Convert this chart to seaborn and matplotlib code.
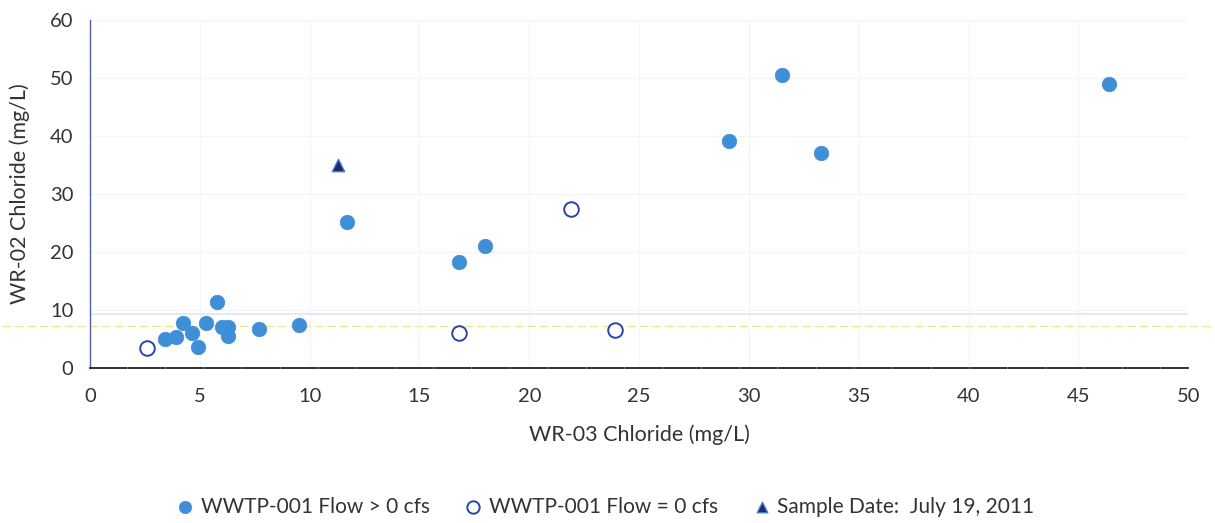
import matplotlib
matplotlib.use("Agg")
import matplotlib.pyplot as plt
import seaborn as sns
import pandas as pd

# Data (mg/L)
flow_x = [3.4, 3.9, 4.25, 4.65, 4.9, 5.3, 5.8, 6.0, 6.3, 6.3, 7.7, 9.5, 11.7, 16.8, 18.0, 29.1, 31.5, 33.3, 46.4]
flow_y = [5.0, 5.4, 7.8, 6.1, 3.7, 7.8, 11.4, 7.1, 7.1, 5.5, 6.7, 7.4, 25.1, 18.3, 21.0, 39.2, 50.5, 37.1, 49.0]
noflow_x = [2.6, 16.8, 21.9, 23.9]
noflow_y = [3.4, 6.0, 27.5, 6.5]
sample_x = [11.3]
sample_y = [35.0]

labels = ["WWTP-001 Flow > 0 cfs", "WWTP-001 Flow = 0 cfs", "Sample Date:  July 19, 2011"]
xticks = [0, 5, 10, 15, 20, 25, 30, 35, 40, 45, 50]
yticks = [0, 10, 20, 30, 40, 50, 60]

sns.set_theme(style="white")
plt.rcParams['font.family'] = ['Lato', 'DejaVu Sans']

fig = plt.figure(figsize=(12.15, 5.23), dpi=100)
ax = fig.add_axes([0.074, 0.296, 0.904, 0.666])

# faint grid
for v in yticks[1:]:
    ax.axhline(v, color="#f3f4f8", lw=0.8, zorder=0)
for v in xticks[1:]:
    ax.axvline(v, color="#f4f5f8", lw=0.8, zorder=0)
# scan artifacts (faint lines)
ax.axhline(7.2, xmin=-0.08, xmax=1.03, clip_on=False, color="#f0e68a", lw=1.0,
           ls=(0, (6, 3)), zorder=0.5)
ax.axhline(9.3, color="#dde6f4", lw=1.2, zorder=0.5)

df1 = pd.DataFrame({"x": flow_x, "y": flow_y})
df2 = pd.DataFrame({"x": noflow_x, "y": noflow_y})
df3 = pd.DataFrame({"x": sample_x, "y": sample_y})

sns.scatterplot(data=df1, x="x", y="y", ax=ax, s=110, color="#3f8fd8",
                edgecolor="#3f8fd8", linewidth=0.5, marker="o", label=labels[0], zorder=3)
sns.scatterplot(data=df2, x="x", y="y", ax=ax, s=110, facecolor="white",
                edgecolor="#2a44a8", linewidth=1.4, marker="o", label=labels[1], zorder=3)
sns.scatterplot(data=df3, x="x", y="y", ax=ax, s=80, color="#1f2a6e",
                edgecolor="#4a7fd0", linewidth=1.0, marker="^", label=labels[2], zorder=4)

ax.set_xlim(0, 50)
ax.set_ylim(0, 60)
ax.set_xticks(xticks)
ax.set_yticks(yticks)
ax.tick_params(axis="x", labelsize=14.5, colors="#333333", length=0, pad=14)
ax.tick_params(axis="y", labelsize=14.5, colors="#333333", length=0, pad=12)
ax.set_xlabel("WR-03 Chloride (mg/L)", fontsize=15.5, color="#333333", labelpad=14)
ax.set_ylabel("WR-02 Chloride (mg/L)", fontsize=15.5, color="#333333", labelpad=14)

for side in ["top", "right"]:
    ax.spines[side].set_visible(False)
ax.spines["left"].set_color("#5060a0")
ax.spines["left"].set_linewidth(1.0)
ax.spines["bottom"].set_color("#222222")
ax.spines["bottom"].set_linewidth(1.3)
ax.spines["bottom"].set_linestyle((0, (20, 1.2)))

ax.legend(loc="center", bbox_to_anchor=(0.498, 0.031), bbox_transform=fig.transFigure,
          ncol=3, frameon=False, fontsize=15, handlelength=0.9, handletextpad=0.3,
          columnspacing=1.65, markerscale=0.85, labelcolor="#333333", borderpad=0.1)

fig.savefig("out.png", dpi=100)
